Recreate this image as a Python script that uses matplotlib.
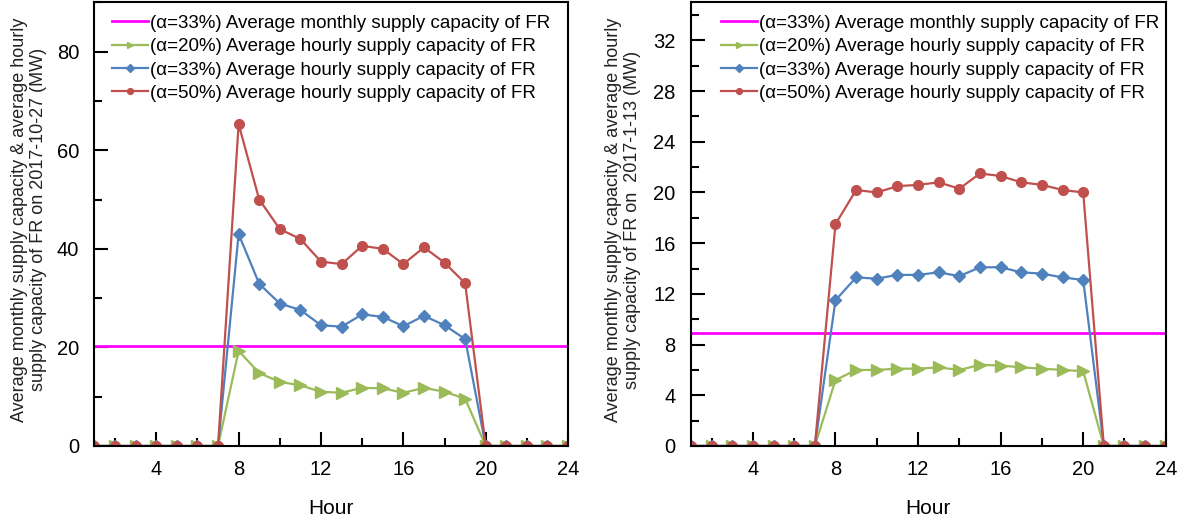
import numpy as np
import matplotlib
matplotlib.use('Agg')
import matplotlib.pyplot as plt
from matplotlib.ticker import MultipleLocator

plt.rcParams['font.family'] = ['Liberation Sans', 'DejaVu Sans']

## data ##
hours = list(range(1, 25))

# 2017-10-27
oct_monthly = 20.2
oct_a20 = [0, 0, 0, 0, 0, 0, 0, 19.3, 14.8, 13.0, 12.3, 11.0, 10.8, 11.8, 11.7, 10.8, 11.8, 11.0, 9.6, 0, 0, 0, 0, 0]
oct_a33 = [0, 0, 0, 0, 0, 0, 0, 43.0, 32.9, 28.9, 27.6, 24.5, 24.2, 26.7, 26.2, 24.3, 26.4, 24.5, 21.7, 0, 0, 0, 0, 0]
oct_a50 = [0, 0, 0, 0, 0, 0, 0, 65.3, 50.0, 44.0, 42.0, 37.4, 36.9, 40.6, 40.0, 36.9, 40.3, 37.2, 33.0, 0, 0, 0, 0, 0]

# 2017-1-13
jan_monthly = 8.9
jan_a20 = [0, 0, 0, 0, 0, 0, 0, 5.2, 6.0, 6.0, 6.1, 6.1, 6.2, 6.0, 6.4, 6.35, 6.2, 6.1, 6.0, 5.9, 0, 0, 0, 0]
jan_a33 = [0, 0, 0, 0, 0, 0, 0, 11.5, 13.3, 13.2, 13.5, 13.5, 13.7, 13.4, 14.1, 14.1, 13.7, 13.6, 13.3, 13.1, 0, 0, 0, 0]
jan_a50 = [0, 0, 0, 0, 0, 0, 0, 17.5, 20.2, 20.0, 20.5, 20.6, 20.8, 20.3, 21.5, 21.3, 20.8, 20.6, 20.2, 20.0, 0, 0, 0, 0]

labels = ['(\u03b1=33%) Average monthly supply capacity of FR',
          '(\u03b1=20%) Average hourly supply capacity of FR',
          '(\u03b1=33%) Average hourly supply capacity of FR',
          '(\u03b1=50%) Average hourly supply capacity of FR']

c_mag = '#FF00FF'
c_green = '#9BBB59'
c_blue = '#4F81BD'
c_red = '#C0504D'

fig = plt.figure(figsize=(11.84, 5.25), dpi=100)
ax1 = fig.add_axes([0.0798, 0.1505, 0.400, 0.845])
ax2 = fig.add_axes([0.5836, 0.1505, 0.401, 0.845])


def draw(ax, monthly, a20, a33, a50, ymax, ymaj, ylabel, leg_x, ylab_x):
    ax.axhline(monthly, color=c_mag, lw=2, label=labels[0])
    ax.plot(hours, a20, color=c_green, lw=1.6, marker='>', ms=8, label=labels[1])
    ax.plot(hours, a33, color=c_blue, lw=1.6, marker='D', ms=6.5, label=labels[2])
    ax.plot(hours, a50, color=c_red, lw=1.6, marker='o', ms=7, label=labels[3])
    ax.set_xlim(1, 24)
    ax.set_ylim(0, ymax)
    ax.xaxis.set_major_locator(MultipleLocator(4))
    ax.xaxis.set_minor_locator(MultipleLocator(2))
    ax.yaxis.set_major_locator(MultipleLocator(ymaj))
    ax.yaxis.set_minor_locator(MultipleLocator(ymaj / 2))
    ax.tick_params(which='major', direction='in', length=10, width=1.5, labelsize=14.5, pad=10)
    ax.tick_params(which='minor', direction='in', length=6, width=1.5)
    ax.tick_params(axis='y', which='major', pad=11)
    for s in ax.spines.values():
        s.set_linewidth(1.5)
    ax.set_xlabel('Hour', fontsize=15)
    ax.xaxis.set_label_coords(0.5, -0.12)
    ax.set_ylabel(ylabel, fontsize=13, color='#222222', linespacing=1.2)
    ax.yaxis.set_label_coords(ylab_x, 0.51)
    ax.legend(loc='upper left', bbox_to_anchor=(leg_x, 0.972), frameon=False,
              fontsize=13.5, handlelength=1.9, handletextpad=0.15, labelspacing=0.33,
              borderaxespad=0, borderpad=0, markerscale=0.6)


draw(ax1, oct_monthly, oct_a20, oct_a33, oct_a50, 90, 20,
     'Average monthly supply capacity & average hourly\nsupply capacity of FR on 2017-10-27 (MW)', 0.037, -0.100)
draw(ax2, jan_monthly, jan_a20, jan_a33, jan_a50, 35, 4,
     'Average monthly supply capacity & average hourly\nsupply capacity of FR on  2017-1-13 (MW)', 0.063, -0.105)

plt.savefig('out.png', dpi=100)
